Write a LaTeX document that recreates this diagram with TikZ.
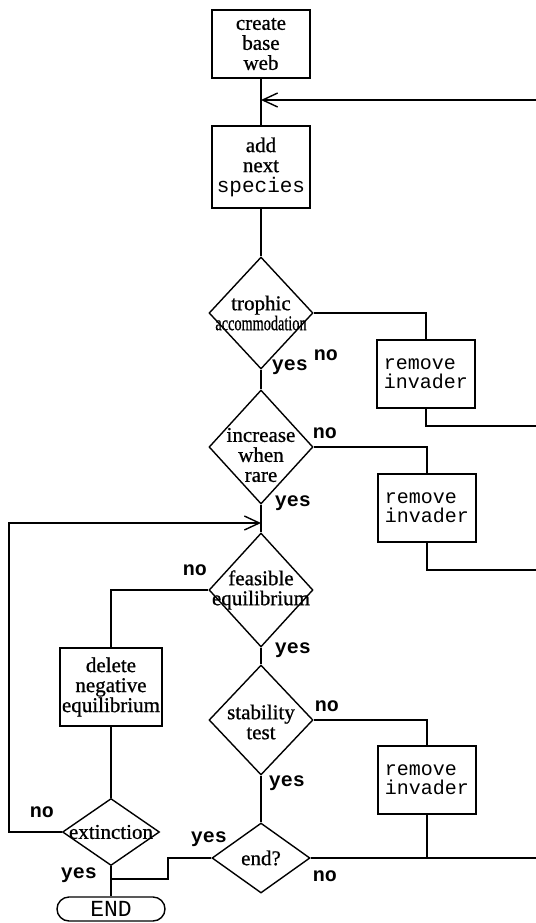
\documentclass[tikz,border=0pt]{standalone}
\usepackage{fontspec}
\setmainfont{Liberation Serif}[FakeBold=0.8]
\setmonofont{Liberation Mono}
\usetikzlibrary{shapes.geometric,arrows.meta}

\begin{document}
\begin{tikzpicture}[x=0.5pt,y=-0.5pt,line width=0.7pt,
  >={Straight Barb[length=7.5pt,width=7pt]},
  box/.style={draw,rectangle,inner sep=1pt,align=center,minimum width=49pt,
    font=\fontsize{10.5}{10}\selectfont},
  rembox/.style={box,align=left,font=\fontsize{10}{9.5}\selectfont\ttfamily,minimum height=34pt},
  dec/.style={draw,diamond,inner sep=0pt,minimum width=52pt,minimum height=56pt},
  dtxt/.style={align=center,inner sep=0pt,font=\fontsize{10.5}{10}\selectfont},
  term/.style={draw,rectangle,rounded corners=6pt,minimum width=54pt,
    minimum height=12pt,inner sep=0pt,font=\fontsize{11.5}{13}\selectfont\ttfamily},
  ans/.style={font=\ttfamily\bfseries,inner sep=0pt}]
  \useasboundingbox (0,0) rectangle (536,923);
  % main column
  \node[box,minimum height=34pt] (create) at (261,44) {create\\base\\web};
  \node[box,minimum height=41pt] (add) at (261,167) {add\\next\\\texttt{species}};
  \node[dec] (troph) at (261,313) {};
  \node[dtxt] (tropht) at (troph) {trophic\\\scalebox{0.68}[1]{accommodation}};
  \node[dec,minimum height=57pt] (incr) at (261,447) {};
  \node[dtxt] (incrt) at ([yshift=-4pt]incr.center) {increase\\when\\rare};
  \node[dec,minimum height=57pt] (feas) at (261,590) {};
  \node[dtxt] (feast) at (feas) {feasible\\equilibrium};
  \node[dec,minimum height=55pt] (stab) at (261,720) {};
  \node[dtxt] (stabt) at ([yshift=-1pt]stab.center) {stability\\test};
  \node[dec,minimum width=49pt,minimum height=35pt] (endq) at (261,858) {};
  \node[dtxt] (endqt) at (endq) {end?};
  % right column
  \node[rembox] (rem1) at (426,374) {remove\\invader};
  \node[rembox] (rem2) at (427,508) {remove\\invader};
  \node[rembox] (rem3) at (427,780) {remove\\invader};
  % left column
  \node[box,minimum height=39pt] (del) at (111,687) {delete\\negative\\equilibrium};
  \node[dec,minimum width=48.5pt,minimum height=33.5pt] (ext) at (111,832) {};
  \node[dtxt] (extt) at (ext) {extinction};
  \node[term] (END) at (111,909) {END};
  % loose ends
  \coordinate (in1) at (536,100);
  \coordinate (j1) at (261,100);
  \coordinate (out1) at (536,426);
  \coordinate (out2) at (536,570);
  \coordinate (out3) at (536,858);
  \coordinate (lp) at (9,523);
  \coordinate (j2) at (261,523);
  \coordinate (k1) at (168,879);
  \coordinate (k2) at (111,879);
  % connectors
  \draw (create) -- (add);
  \draw[->] (in1) -- (j1);
  \draw (add) -- (troph);
  \draw (troph.east) -| (rem1.north);
  \draw (rem1.south) |- (out1);
  \draw (troph.south) -- (incr.north);
  \draw (incr.east) -| (rem2.north);
  \draw (rem2.south) |- (out2);
  \draw (incr.south) -- (feas.north);
  \draw (feas.west) -| (del.north);
  \draw (feas.south) -- (stab.north);
  \draw (stab.east) -| (rem3.north);
  \draw (rem3.south) -- (rem3.south |- endq.east);
  \draw (endq.east) -- (out3);
  \draw (stab.south) -- (endq.north);
  \draw (del.south) -- (ext.north);
  \draw[->] (ext.west) -| (lp) -- (j2);
  \draw (endq.west) -| (k1) -- (k2);
  \draw (ext.south) -- (END.north);
  % yes / no
  \foreach \n/\x/\y/\t in {y1/290/367/yes, n1/326/355/no, n2/325/433/no,
      y2/293/503/yes, n3/195/570/no, y3/293/650/yes, n4/327/706/no,
      y4/287/783/yes, n5/42/812/no, y5/79/875/yes, y6/209/839/yes, n6/325/876/no}
    \node[ans] (\n) at (\x,\y) {\t};
\end{tikzpicture}
\end{document}
